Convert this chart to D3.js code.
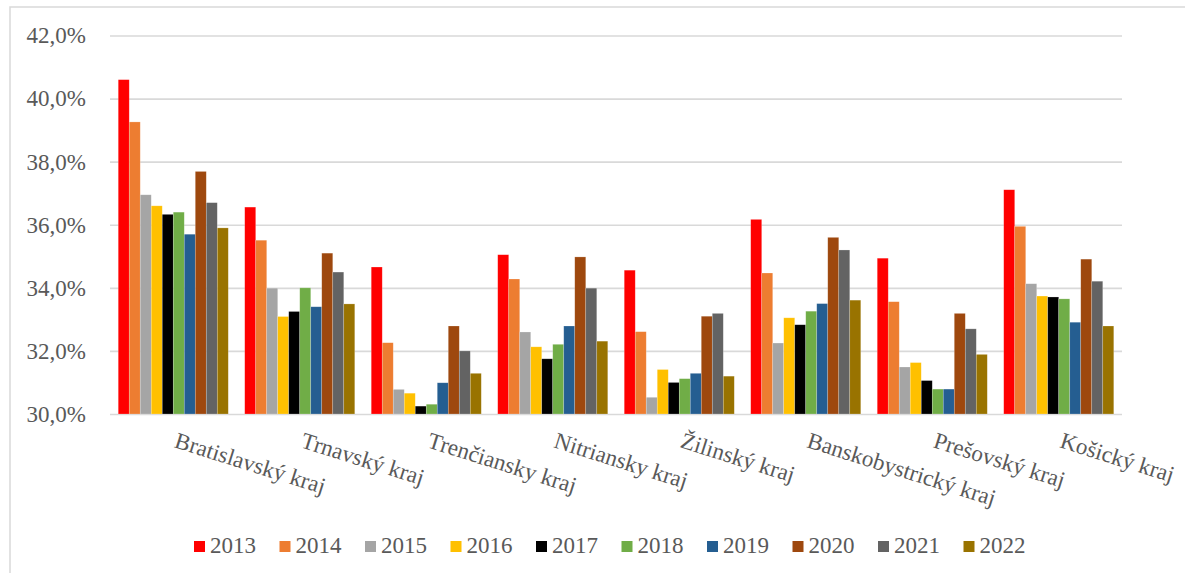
<!DOCTYPE html>
<html>
<head>
<meta charset="utf-8">
<script src="https://cdn.jsdelivr.net/npm/d3@7"></script>
<style>
  html, body { margin: 0; padding: 0; background: #ffffff; }
  svg { display: block; }
  text { font-family: "Liberation Serif", "Times New Roman", serif; fill: #595959; }
</style>
</head>
<body>
<svg id="chart" width="1185" height="573"></svg>
<script>
// Regions (kraje) shown on the horizontal axis
const regions = [
  "Bratislavský kraj", "Trnavský kraj", "Trenčiansky kraj", "Nitriansky kraj",
  "Žilinský kraj", "Banskobystrický kraj", "Prešovský kraj", "Košický kraj"
];

// Years in the legend
const years = ["2013", "2014", "2015", "2016", "2017", "2018", "2019", "2020", "2021", "2022"];

// Share (%) per year, one value per region in the order above
const v2013 = [40.60, 36.56, 34.66, 35.05, 34.56, 36.17, 34.94, 37.11];
const v2014 = [39.26, 35.51, 32.26, 34.28, 32.61, 34.47, 33.56, 35.95];
const v2015 = [36.95, 33.99, 30.78, 32.60, 30.53, 32.25, 31.49, 34.13];
const v2016 = [36.60, 33.09, 30.66, 32.13, 31.41, 33.05, 31.63, 33.74];
const v2017 = [36.33, 33.25, 30.25, 31.75, 31.00, 32.83, 31.06, 33.71];
const v2018 = [36.40, 34.00, 30.31, 32.21, 31.12, 33.26, 30.79, 33.65];
const v2019 = [35.70, 33.40, 30.99, 32.79, 31.29, 33.50, 30.79, 32.91];
const v2020 = [37.69, 35.10, 32.79, 34.98, 33.10, 35.60, 33.19, 34.91];
const v2021 = [36.70, 34.50, 32.00, 33.99, 33.19, 35.20, 32.70, 34.21];
const v2022 = [35.90, 33.49, 31.29, 32.31, 31.20, 33.61, 31.89, 32.79];

const seriesValues = [v2013, v2014, v2015, v2016, v2017, v2018, v2019, v2020, v2021, v2022];

// Y axis ticks
const yTicks = [30, 32, 34, 36, 38, 40, 42];

const colors = ["#FF0000", "#ED7D31", "#A5A5A5", "#FFC000", "#000000",
                "#70AD47", "#255E91", "#9E480E", "#636363", "#997300"];

const serif = "'Liberation Serif', 'Times New Roman', serif";

const svg = d3.select("#chart");

// Outer chart frame
svg.append("rect")
  .attr("x", 10).attr("y", 7)
  .attr("width", 1300).attr("height", 700)
  .attr("fill", "none")
  .attr("stroke", "#d9d9d9")
  .attr("stroke-width", 1.5);

const plot = { left: 110, right: 1122, top: 35.5, bottom: 414 };

const y = d3.scaleLinear().domain([30, 42]).range([plot.bottom, plot.top]);

const x0 = d3.scaleBand()
  .domain(regions)
  .range([plot.left, plot.right])
  .paddingInner(0.13)
  .paddingOuter(0.065);

const x1 = d3.scaleBand()
  .domain(years)
  .range([0, x0.bandwidth()])
  .padding(0);

const color = d3.scaleOrdinal().domain(years).range(colors);

// Horizontal gridlines and tick labels
const yAxis = d3.axisLeft(y)
  .tickValues(yTicks)
  .tickSize(-(plot.right - plot.left))
  .tickPadding(24)
  .tickFormat(d => d3.format(".1f")(d).replace(".", ",") + "%");

const gy = svg.append("g")
  .attr("transform", `translate(${plot.left},0)`)
  .call(yAxis);
gy.attr("font-family", serif);
gy.select(".domain").remove();
gy.selectAll(".tick line")
  .attr("stroke", "#d9d9d9")
  .attr("stroke-width", 1.6);
gy.selectAll(".tick text")
  .attr("font-size", 23)
  .attr("fill", "#595959")
  .style("font-family", serif);

// Bars
const rows = regions.map((r, i) => ({
  region: r,
  vals: years.map((yr, k) => ({ year: yr, value: seriesValues[k][i] }))
}));

const groups = svg.append("g")
  .selectAll("g")
  .data(rows)
  .join("g")
  .attr("transform", d => `translate(${x0(d.region)},0)`);

groups.selectAll("rect")
  .data(d => d.vals)
  .join("rect")
  .attr("x", d => x1(d.year))
  .attr("width", x1.bandwidth())
  .attr("y", d => y(d.value))
  .attr("height", d => y(30) - y(d.value))
  .attr("fill", d => color(d.year))
  .attr("stroke", "#ffffff")
  .attr("stroke-opacity", 0.35)
  .attr("stroke-width", 0.6);

// Category labels, rotated, starting at each group's centre
const xAxis = d3.axisBottom(x0).tickSize(0).tickPadding(0);
const gx = svg.append("g")
  .attr("transform", `translate(0,${plot.bottom})`)
  .call(xAxis);
gx.attr("font-family", serif);
gx.select(".domain").remove();
gx.selectAll(".tick text")
  .attr("font-size", 23)
  .attr("fill", "#595959")
  .style("font-family", serif)
  .attr("text-anchor", "start")
  .attr("dy", null)
  .attr("y", 0)
  .attr("transform", "translate(0,33) rotate(17.5)");

// Legend
const legend = svg.append("g")
  .attr("transform", "translate(194,0)")
  .attr("font-family", serif);
const item = legend.selectAll("g")
  .data(years)
  .join("g")
  .attr("transform", (d, i) => `translate(${i * 85.5},0)`);
item.append("rect")
  .attr("x", 0).attr("y", 541)
  .attr("width", 11).attr("height", 11)
  .attr("fill", d => color(d));
item.append("text")
  .attr("x", 16).attr("y", 553)
  .attr("font-size", 23)
  .style("font-family", serif)
  .text(d => d);
</script>
</body>
</html>
